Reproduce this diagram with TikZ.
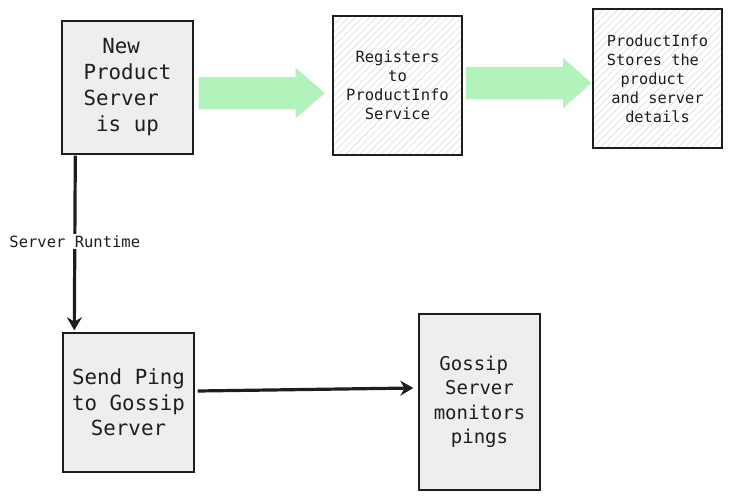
\documentclass[tikz,border=0pt]{standalone}
\usepackage{fontspec}
\newfontfamily\monofont{DejaVu Sans Mono}
\usetikzlibrary{patterns.meta,calc,arrows.meta}
\definecolor{inkc}{HTML}{1E1E1E}
\definecolor{boxgray}{HTML}{EEEEEE}
\definecolor{arrgreen}{HTML}{B2F2BB}
\tikzset{
  graybox/.style={draw=inkc,line width=1.4pt,fill=boxgray,inner sep=0pt,align=center,text=inkc},
  hatchbox/.style={draw=inkc,line width=1.4pt,preaction={fill=white},inner sep=0pt,align=center,text=inkc,
     pattern={Lines[angle=45,distance=5pt,line width=0.4pt]},pattern color=gray!35},
  blockarrow/.style={fill=arrgreen,draw=none},
  flow/.style={draw=inkc,line width=3.2pt,-{Stealth[length=13pt,width=15pt]}},
}
\begin{document}
\begin{tikzpicture}[x=1pt,y=-1pt]
\useasboundingbox (0,0) rectangle (733,500);
\node[graybox,minimum width=131pt,minimum height=133pt,font=\monofont\fontsize{20.8}{26}\selectfont]
  (A) at (127.5,87.5) {New\hphantom{x}\\Product\\Server\hphantom{x}\\is up};
\node[hatchbox,minimum width=129pt,minimum height=139pt,font=\monofont\fontsize{15.5}{19}\selectfont]
  (B) at (397.5,85.5) {Registers\\to\\ProductInfo\\Service};
\node[hatchbox,minimum width=129pt,minimum height=139pt,font=\monofont\fontsize{15.3}{19}\selectfont]
  (C) at (657.5,78.5) {ProductInfo\\Stores the\hphantom{x}\\product\hphantom{x}\\and server\\details};
\node[graybox,minimum width=131pt,minimum height=139pt,font=\monofont\fontsize{20.8}{25.5}\selectfont]
  (D) at (128.5,402.5) {Send Ping\\to Gossip\\Server};
\node[graybox,minimum width=121pt,minimum height=176pt,font=\monofont\fontsize{19}{24.5}\selectfont]
  (E) at (479.5,402) {Gossip\hphantom{x}\\Server\\monitors\\pings};
% green block arrows
\path[blockarrow] ($(A.east)+(5,-10.5)$) -- ($(A.east)+(102,-10.5)$) -- ($(A.east)+(102,-19.5)$)
  -- ($(B.west)+(-8,7.5)$) -- ($(A.east)+(102,30.5)$) -- ($(A.east)+(102,21.5)$) -- ($(A.east)+(5,21.5)$) -- cycle;
\path[blockarrow] ($(B.east)+(4,-18.5)$) -- ($(B.east)+(101,-18.5)$) -- ($(B.east)+(101,-27.5)$)
  -- ($(C.west)+(-1,4.5)$) -- ($(B.east)+(101,22.5)$) -- ($(B.east)+(101,13.5)$) -- ($(B.east)+(4,13.5)$) -- cycle;
% black connectors
\coordinate (a1) at ($(A.south west)+(14,1)$);
\coordinate (d1) at ($(D.north west)+(12,-2)$);
\draw[flow] (a1) -- node[fill=white,inner sep=1.5pt,text=inkc,font=\monofont\fontsize{15.5}{17}\selectfont,pos=0.49] (lbl) {Server Runtime} (d1);
\coordinate (d2) at ($(D.east)+(3,-11.5)$);
\coordinate (e2) at ($(E.west)+(-5,-14)$);
\draw[flow] (d2) -- (e2);
\end{tikzpicture}
\end{document}
